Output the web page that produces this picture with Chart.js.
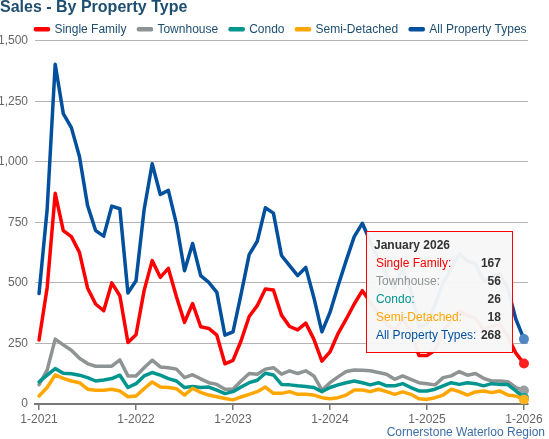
<!DOCTYPE html>
<html>
<head>
<meta charset="utf-8">
<title>Sales - By Property Type</title>
<script src="https://cdn.jsdelivr.net/npm/chart.js@4.4.1/dist/chart.umd.min.js"></script>
<style>
  body { margin: 0; background: #fff; font-family: "Liberation Sans", Arial, sans-serif; }
  .wrap { position: relative; width: 549px; height: 439px; overflow: hidden; }
  #tip { position: absolute; display: none; box-sizing: border-box; width: 147px; height: 122px;
         background: rgba(247, 247, 247, 0.96); border: 1px solid #ff0000; padding: 4px 11px 0 7px;
         font-size: 12px; line-height: 18px; color: #333; pointer-events: none; }
  #tip .t { font-weight: bold; }
  #tip table { border-collapse: collapse; width: 100%; }
  #tip td { padding: 0; white-space: nowrap; }
  #tip td.l { padding-left: 2px; }
  #tip td.v { text-align: right; font-weight: bold; color: #333; }
  .credit { position: absolute; right: 4px; bottom: 0; font-size: 12px; line-height: 14px; color: #3d6da6; }
</style>
</head>
<body>
<div class="wrap">
  <canvas id="sales"></canvas>
  <div id="tip"></div>
  <div class="credit">Cornerstone Waterloo Region</div>
</div>
<script>
const monthNames = ['January', 'February', 'March', 'April', 'May', 'June',
  'July', 'August', 'September', 'October', 'November', 'December'];
const years = [2021, 2022, 2023, 2024, 2025, 2026];
const tickLabels = ['1-2021', '1-2022', '1-2023', '1-2024', '1-2025', '1-2026'];

const seriesNames = ['Single Family', 'Townhouse', 'Condo', 'Semi-Detached', 'All Property Types'];
const seriesColors = ['#ff0000', '#8e9494', '#00968f', '#ffa600', '#00509e'];
const dotColors = ['#ff1f1f', '#9aa0a0', '#1fa39c', '#ffb31a', '#4f86c6'];

// monthly sales, Jan 2021 .. Jan 2026
const singleFamily = [264, 479, 870, 716, 691, 626, 479, 413, 385, 500, 447, 254,
  286, 468, 592, 523, 560, 443, 337, 415, 319, 312, 284, 166,
  180, 261, 361, 406, 475, 471, 367, 320, 306, 334, 268, 177,
  215, 291, 350, 413, 468, 420, 370, 330, 305, 350, 300, 200,
  200, 222, 300, 345, 385, 365, 355, 305, 320, 330, 280, 210,
  167];
const townhouse = [80, 140, 268, 244, 222, 189, 167, 156, 156, 156, 182, 116,
  116, 150, 181, 153, 150, 144, 109, 121, 104, 88, 81, 61,
  61, 95, 126, 123, 144, 150, 123, 137, 126, 137, 116, 57,
  88, 112, 134, 140, 139, 137, 130, 123, 102, 116, 102, 88,
  84, 79, 109, 116, 134, 119, 126, 106, 95, 95, 92, 68,
  56];
const condo = [91, 119, 146, 127, 125, 119, 109, 95, 99, 105, 119, 68,
  84, 116, 130, 119, 105, 95, 68, 72, 68, 70, 57, 43,
  51, 70, 88, 98, 127, 120, 81, 79, 75, 72, 68, 51,
  68, 79, 88, 95, 88, 79, 88, 75, 75, 84, 68, 54,
  54, 61, 75, 88, 81, 88, 84, 75, 84, 81, 80, 54,
  26];
const semiDetached = [33, 68, 120, 106, 95, 88, 61, 57, 57, 61, 54, 30,
  33, 63, 91, 70, 68, 63, 37, 65, 48, 37, 30, 23,
  17, 29, 40, 51, 70, 44, 44, 51, 40, 40, 37, 26,
  22, 26, 37, 58, 58, 51, 61, 51, 40, 50, 40, 22,
  19, 26, 37, 61, 51, 37, 50, 54, 47, 54, 37, 33,
  18];
const allTypes = [456, 802, 1403, 1199, 1141, 1022, 820, 716, 693, 817, 806, 458,
  509, 802, 992, 865, 882, 744, 550, 663, 530, 502, 461, 284,
  298, 454, 617, 672, 810, 788, 613, 571, 530, 564, 440, 298,
  378, 488, 592, 691, 746, 670, 600, 530, 480, 560, 470, 320,
  330, 410, 500, 560, 620, 590, 580, 510, 520, 540, 477, 350,
  268];

const values = [singleFamily, townhouse, condo, semiDetached, allTypes];

const months = [];
for (const y of years) {
  for (const m of monthNames) {
    if (months.length < allTypes.length) months.push(m + ' ' + y);
  }
}
const last = months.length - 1;

const datasets = seriesNames.map((name, i) => ({
  label: name,
  data: values[i],
  borderColor: seriesColors[i],
  backgroundColor: seriesColors[i],
  borderWidth: 3.5,
  borderJoinStyle: 'round',
  borderCapStyle: 'round',
  tension: 0,
  pointRadius: (ctx) => ctx.dataIndex === last ? 5 : 0,
  pointHoverRadius: 5,
  pointBorderWidth: 0,
  pointBackgroundColor: dotColors[i],
  order: seriesNames.length - i // later series painted on top
}));

function drawTip(context) {
  const tip = document.getElementById('tip');
  const model = context.tooltip;
  if (model.opacity === 0 || !model.dataPoints || !model.dataPoints.length) {
    tip.style.display = 'none';
    return;
  }
  const pts = model.dataPoints.slice().sort((a, b) => a.datasetIndex - b.datasetIndex);
  let html = '<div class="t">' + pts[0].label + '</div><table>';
  pts.forEach((p) => {
    html += '<tr><td class="l" style="color:' + seriesColors[p.datasetIndex] + '">' +
      p.dataset.label + ':</td><td class="v">' + p.formattedValue + '</td></tr>';
  });
  tip.innerHTML = html + '</table>';
  const anchor = pts[pts.length - 1].element;
  tip.style.left = (anchor.x - 158) + 'px';
  tip.style.top = (anchor.y - 108) + 'px';
  tip.style.display = 'block';
}

// nudge the legend row right / down without touching the plot area
const legendNudge = {
  id: 'legendNudge',
  afterLayout(chart) {
    const lg = chart.legend;
    lg.left += 17; lg.right += 17;
    lg.top += 4.5; lg.bottom += 4.5;
  }
};

const chart = new Chart(document.getElementById('sales'), {
  type: 'line',
  data: { labels: months, datasets: datasets },
  plugins: [legendNudge],
  options: {
    responsive: true,
    maintainAspectRatio: false,
    animation: false,
    events: [],
    locale: 'en-US',
    layout: { padding: { left: 0, right: 21, top: 0, bottom: 10.6 } },
    plugins: {
      title: {
        display: true,
        text: 'Sales - By Property Type',
        align: 'start',
        color: '#1d4e70',
        font: { family: 'Liberation Sans, Arial, sans-serif', size: 16, weight: 'bold', lineHeight: 0.95 },
        padding: { top: 0, bottom: -8.5 }
      },
      legend: {
        position: 'top',
        labels: {
          boxWidth: 13,
          boxHeight: 1,
          padding: 12,
          color: '#1d4e70',
          font: { family: 'Liberation Sans, Arial, sans-serif', size: 12 },
          sort: (a, b) => a.datasetIndex - b.datasetIndex
        }
      },
      tooltip: {
        enabled: false,
        mode: 'index',
        intersect: false,
        external: drawTip
      }
    },
    scales: {
      x: {
        offset: true,
        grid: {
          offset: false,
          drawOnChartArea: false,
          drawTicks: true,
          tickLength: 6,
          lineWidth: 1.5,
          color: (ctx) => ctx.index % 12 === 0 ? '#777' : 'rgba(0,0,0,0)'
        },
        border: { display: true, color: '#777', width: 2 },
        ticks: {
          autoSkip: false,
          maxRotation: 0,
          minRotation: 0,
          padding: 2,
          color: '#666',
          font: { family: 'Liberation Sans, Arial, sans-serif', size: 12 },
          callback: (v, i) => i % 12 === 0 ? tickLabels[i / 12] : ''
        }
      },
      y: {
        min: 0,
        max: 1500,
        afterFit: (scale) => { scale.width = 35; },
        grid: { color: '#b4b4b4', lineWidth: 1, drawTicks: false },
        border: { display: false },
        ticks: {
          stepSize: 250,
          padding: 7,
          color: '#666',
          font: { family: 'Liberation Sans, Arial, sans-serif', size: 12 }
        }
      }
    }
  }
});

chart.tooltip.setActiveElements(datasets.map((d, i) => ({ datasetIndex: i, index: last })), { x: 0, y: 0 });
chart.update();
</script>
</body>
</html>
